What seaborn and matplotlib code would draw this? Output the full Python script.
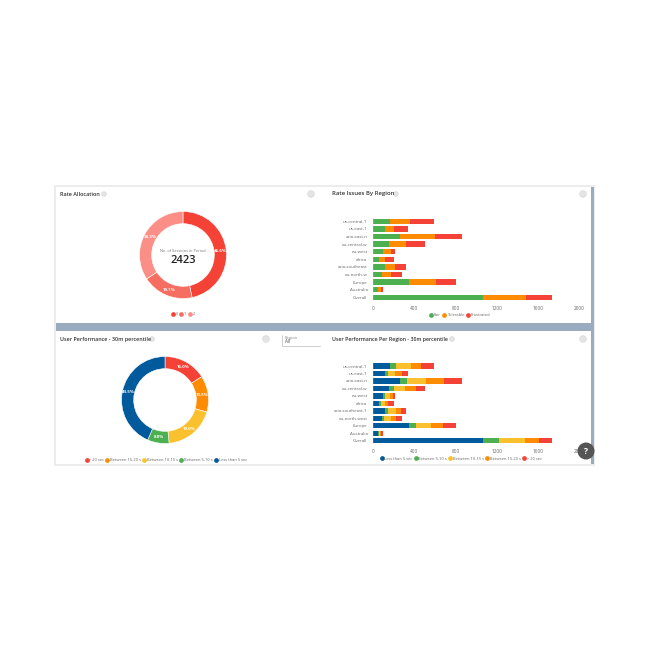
import numpy as np
import pandas as pd
import matplotlib
matplotlib.use('Agg')
import matplotlib.pyplot as plt
from matplotlib.patches import Rectangle, Circle
from matplotlib.lines import Line2D
import seaborn as sns

# data
regions_top = ['us-central-1', 'us-east-1', 'asia-east-n', 'eu-central-w', 'eu-west', 'africa',
               'asia-southeast', 'eu-north-w', 'Europe', 'Australia', 'Overall']
regions_bottom = ['us-central-1', 'us-east-1', 'asia-east-n', 'eu-central-w', 'eu-west', 'africa',
                  'asia-southeast-1', 'eu-north-west', 'Europe', 'Australia', 'Overall']

rating_names = ['0', '1', '2']
rating_counts = [1130, 463, 830]
rating_total = 2423

fair = [165, 119, 261, 152, 100, 58, 119, 87, 352, 48, 1061]
tolerable = [194, 81, 335, 168, 74, 55, 94, 87, 258, 29, 423]
frustrated = [232, 139, 268, 184, 39, 87, 110, 103, 197, 19, 245]

perf_names = ['> 20 sec', 'Between 15-20 s', 'Between 10-15 s', 'Between 5-10 s', 'Less than 5 sec']
perf_share = [16, 13.5, 19, 8, 43.5]

under5 = [165, 119, 261, 152, 97, 61, 119, 84, 352, 48, 1061]
from5 = [61, 26, 68, 52, 23, 13, 29, 26, 61, 6, 155]
from10 = [139, 68, 187, 103, 45, 42, 74, 68, 148, 16, 252]
from15 = [100, 71, 174, 106, 29, 29, 48, 45, 116, 6, 142]
over20 = [126, 55, 174, 90, 19, 55, 52, 55, 129, 19, 119]

x_ticks = [0, 400, 800, 1200, 1600, 2000]

RED, ORANGE, YELLOW, GREEN, BLUE = '#f44336', '#ff8c00', '#fbc02d', '#4caf50', '#015a9c'
SHADES = ['#f44336', '#f66e62', '#fb8f87']
BAND = '#9aabc0'
W = 650


def px_axes(left, top, right, bottom):
    # axes from pixel box, y counted from the top of the image
    return fig.add_axes([left / W, 1 - bottom / W, (right - left) / W, (bottom - top) / W])


def donut(box, values, colors):
    ax = px_axes(*box)
    ax.pie(values, colors=colors, startangle=90, counterclock=False, radius=1,
           autopct='%.1f%%', pctdistance=0.86,
           wedgeprops={'width': 0.28, 'edgecolor': 'white', 'linewidth': 0.4},
           textprops={'fontsize': 3.2, 'color': 'white', 'fontweight': 'bold'})
    ax.set_xlim(-1, 1)
    ax.set_ylim(-1, 1)
    return ax


def stacked(box, labels, series, names, colors):
    df = pd.DataFrame(dict(zip(names, series)), index=labels)
    ax = px_axes(*box)
    left = np.zeros(len(labels))
    for name, color in zip(names, colors):
        sns.barplot(x=df[name].values, y=labels, color=color, left=left, width=0.72,
                    saturation=1, orient='h', ax=ax, linewidth=0, edgecolor='none')
        left += df[name].values
    ax.set_xlim(0, 2000)
    ax.set_xticks(x_ticks)
    ax.set_xticklabels([str(t) for t in x_ticks])
    ax.tick_params(axis='x', labelsize=3.4, colors='#666666', length=1, width=0.3, pad=2.5)
    ax.tick_params(axis='y', labelsize=3.2, colors='#666666', length=0, pad=4)
    sns.despine(ax=ax, left=True, bottom=True, top=True, right=True)
    ax.axvline(0, color='#cccccc', lw=0.3)
    ax.set_xlabel('')
    ax.set_ylabel('')
    return ax


def dot_legend(y, x, names, colors):
    handles = [Line2D([], [], ls='', marker='o', ms=2.4, color=c) for c in colors]
    fig.legend(handles, names, loc='center', bbox_to_anchor=(x / W, 1 - y / W), ncol=len(names),
               frameon=False, fontsize=2.9, labelcolor='#666666', handletextpad=0.3,
               handlelength=0.7, columnspacing=0.5, borderpad=0)


def icon(x, y, r=2.8):
    bg.add_patch(Circle((x, y), r, fc='#e4e4e4', ec='#d0d0d0', lw=0.3))


sns.set_theme(style='white')
plt.rcParams['font.family'] = ['Open Sans', 'DejaVu Sans']

fig = plt.figure(figsize=(6.5, 6.5), dpi=100, facecolor='white')

# page background, cards and titles
bg = fig.add_axes([0, 0, 1, 1])
bg.set_xlim(0, W)
bg.set_ylim(W, 0)
bg.axis('off')
bg.add_patch(Rectangle((54, 185), 541, 281, fc='#ececec', ec='none'))
bg.add_patch(Rectangle((56, 187), 538, 277, fc='white', ec='none'))
bg.add_patch(Rectangle((56, 323), 538, 7.5, fc=BAND, ec='none'))
bg.add_patch(Rectangle((591, 187), 3, 277, fc=BAND, ec='none'))

title_kw = dict(color='#333333', va='center', fontweight='semibold')
bg.text(60, 194, 'Rate Allocation', fontsize=4.0, **title_kw)
bg.text(332, 194, 'Rate Issues By Region', fontsize=4.3, **title_kw)
bg.text(60, 339, 'User Performance - 30m percentile', fontsize=3.9, **title_kw)
bg.text(332, 339, 'User Performance Per Region - 30m percentile', fontsize=3.8, **title_kw)
for x, y in [(104, 194), (396, 194), (152, 339), (452, 339)]:
    icon(x, y, 2.4)
for x, y in [(311, 194), (583, 194), (266, 339), (583, 339)]:
    icon(x, y, 3.4)

# region filter box
bg.plot([282, 282, 320], [335, 346, 346], color='#bbbbbb', lw=0.5)
bg.text(285, 337.5, 'Region', fontsize=3, color='#888888', va='center')
bg.text(285, 341.5, 'All', fontsize=3.4, color='#555555', va='center')

# top row
donut((139.5, 211.5, 226.5, 298.5), rating_counts, SHADES)
bg.text(183, 251, 'No. of Sessions in Period', fontsize=2.9, color='#777777', ha='center', va='center')
bg.text(183, 260.5, str(rating_total), fontsize=8, color='#222222', ha='center', va='center', fontweight='semibold')
dot_legend(314, 183, rating_names, SHADES)

stacked((373, 217.5, 579.7, 301.1), regions_top, [fair, tolerable, frustrated],
        ['Fair', 'Tolerable', 'Frustrated'], [GREEN, ORANGE, RED])
dot_legend(315, 460, ['Fair', 'Tolerable', 'Frustrated'], [GREEN, ORANGE, RED])

# bottom row
donut((121.5, 356.5, 208.5, 443.5), perf_share, [RED, ORANGE, YELLOW, GREEN, BLUE])
dot_legend(460, 166, perf_names, [RED, ORANGE, YELLOW, GREEN, BLUE])

stacked((373, 362.3, 579.7, 444.4), regions_bottom, [under5, from5, from10, from15, over20],
        perf_names[::-1], [BLUE, GREEN, YELLOW, ORANGE, RED])
dot_legend(458.5, 461, perf_names[::-1], [BLUE, GREEN, YELLOW, ORANGE, RED])

# help button sits over everything
top = fig.add_axes([0, 0, 1, 1], facecolor='none')
top.set_xlim(0, W)
top.set_ylim(W, 0)
top.axis('off')
top.add_patch(Circle((586, 451), 8.5, fc='#555555', ec='none'))
top.text(586, 451, '?', fontsize=6, color='white', ha='center', va='center', fontweight='bold')

fig.savefig('out.png', dpi=100)
